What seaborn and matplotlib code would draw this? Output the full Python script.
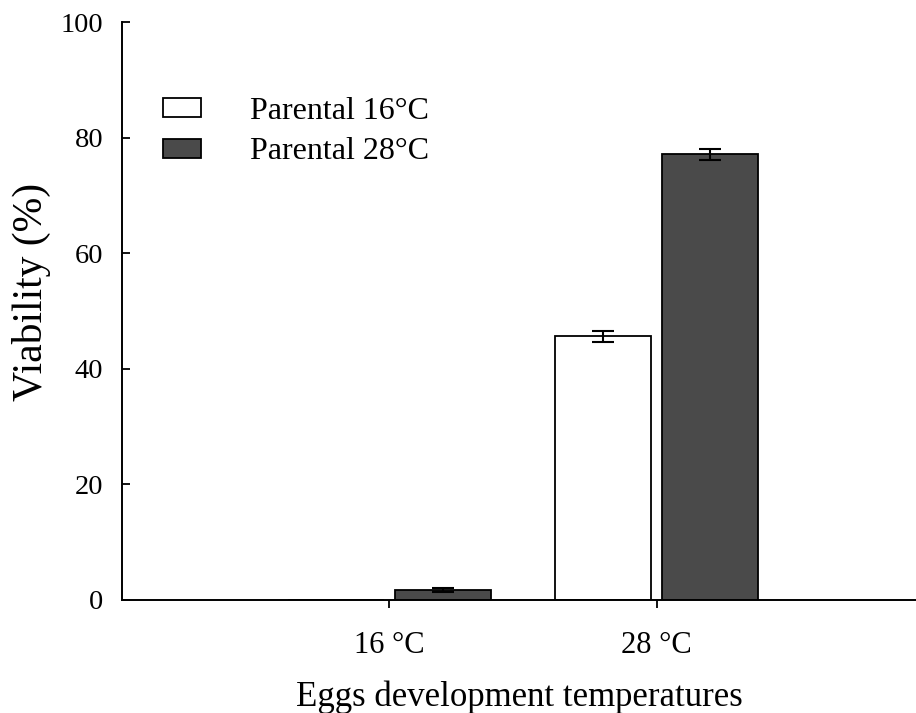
import numpy as np
import pandas as pd
import seaborn as sns
import matplotlib.pyplot as plt

temps = ["16 °C", "28 °C"]
parental = ["Parental 16°C", "Parental 28°C"]
viab_p16 = [0.0, 45.6]
viab_p28 = [1.7, 77.1]
err_p16 = [0.0, 1.0]
err_p28 = [0.35, 0.95]

df = pd.DataFrame({
    "temp": temps * 2,
    "parent": [parental[0]] * 2 + [parental[1]] * 2,
    "viab": viab_p16 + viab_p28,
    "err": err_p16 + err_p28,
})

sns.set_style("ticks")
plt.rcParams["font.family"] = ["Liberation Serif", "DejaVu Serif"]
plt.rcParams["text.color"] = "black"
plt.rcParams["axes.labelcolor"] = "black"

fig = plt.figure(figsize=(9.16, 7.13), dpi=100)
ax = fig.add_axes([0.1332, 0.1585, 0.8668, 0.8105])

sns.barplot(data=df, x="temp", y="viab", hue="parent", order=temps,
            hue_order=parental, palette=["white", "#4a4a4a"], width=0.8,
            gap=0.1, errorbar=None, edgecolor="black", linewidth=1.3, ax=ax)

# error bars placed on the bars seaborn drew
bars = ax.patches[:4]
for bar, (_, row) in zip(bars, df.iterrows()):
    if row["viab"] <= 0:
        continue
    xc = bar.get_x() + bar.get_width() / 2
    ax.errorbar(xc, row["viab"], yerr=row["err"], fmt="none",
                ecolor="black", elinewidth=1.5, capsize=8, capthick=1.5)

ax.set_xlim(-1.0, 1.97)
ax.set_ylim(0, 100)
ax.set_yticks([0, 20, 40, 60, 80, 100])
ax.set_xlabel("Eggs development temperatures", fontsize=25, labelpad=15)
ax.set_ylabel("Viability (%)", fontsize=30, labelpad=7, y=0.533)
ax.tick_params(axis="y", labelsize=20.5, width=1.3, length=6,
               direction="in", pad=13.5, colors="black")
ax.tick_params(axis="x", labelsize=22, width=1.3, length=6,
               direction="out", pad=16, colors="black")
for s in ["left", "bottom"]:
    ax.spines[s].set_linewidth(1.4)
    ax.spines[s].set_color("black")
sns.despine(ax=ax)

ax.legend(loc="upper left", bbox_to_anchor=(0.0516, 0.870), frameon=False,
          fontsize=23, handlelength=1.19, handleheight=0.53,
          handletextpad=1.54, labelspacing=0.35, borderpad=0,
          borderaxespad=0)

fig.savefig("out.png", dpi=100)
